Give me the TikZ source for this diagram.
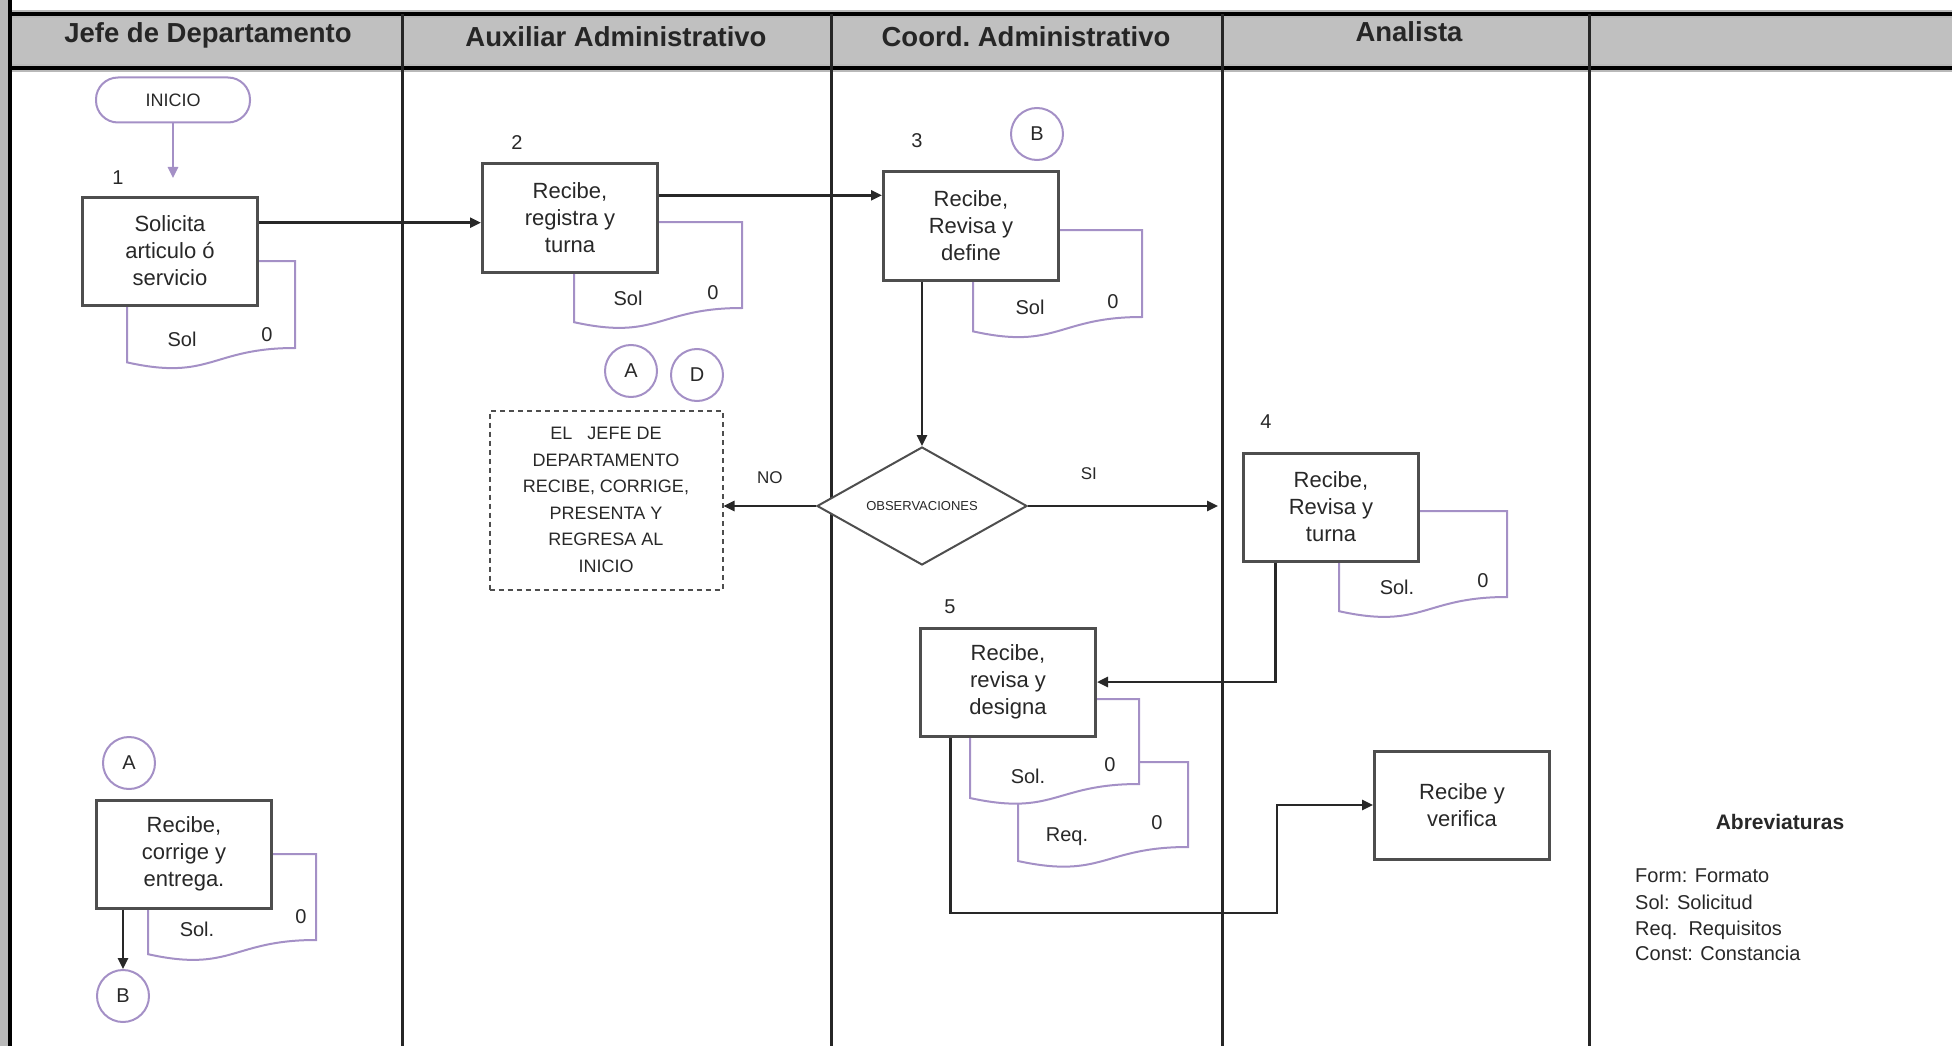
\documentclass[tikz,border=0pt]{standalone}
\usepackage{fontspec}
\setmainfont{Liberation Sans}
\usepackage{tikz}
\usetikzlibrary{arrows.meta}
\usetikzlibrary{shapes.geometric}
\usetikzlibrary{positioning, calc}
\definecolor{lila}{RGB}{164,144,198}
\definecolor{boxgray}{RGB}{78,78,78}
\definecolor{headgray}{RGB}{192,192,192}
\definecolor{inkgray}{RGB}{40,40,40}
\newcommand{\headfont}{\fontsize{27.5}{27.5}\selectfont\bfseries}
\newcommand{\bodyfont}{\fontsize{22}{27}\selectfont}
\newcommand{\capsfont}{\fontsize{18}{26.5}\selectfont}

\begin{document}
\begin{tikzpicture}[x=1pt, y=-1pt, >={Triangle[length=11pt,width=10pt]},
  proc/.style={draw=boxgray, line width=3pt, fill=white, minimum width=175pt,
    minimum height=108pt, inner sep=0pt, align=center, font=\bodyfont, text=inkgray},
  conn/.style={circle, draw=lila, line width=2pt, minimum size=52pt, inner sep=0pt,
    font=\fontsize{20}{20}\selectfont, text=inkgray},
  flow/.style={draw=inkgray, line width=2.5pt, ->},
  docline/.style={draw=lila, line width=2pt, fill=white},
  lane/.style={draw=black!85, line width=3pt}]
\useasboundingbox (0,0) rectangle (1952,1046);

% swimlane frame
\fill[headgray] (9,14) rectangle (1952,68);
\draw[line width=8pt, gray!55] (0,14) -- (1952,14);
\draw[line width=8pt, gray!55] (9,68) -- (1952,68);
\draw[line width=3.5pt, black] (0,14) -- (1952,14);
\draw[line width=3.5pt, black] (9,68) -- (1952,68);
\draw[line width=10pt, gray!55] (5,0) -- (5,1046);
\draw[line width=4.5pt, black] (10,0) -- (10,1046);
\foreach \x in {402, 831, 1222, 1589}
  \draw[lane] (\x,14) -- (\x,1046);

\foreach \x/\y/\m [count=\i] in {
    208/35/Jefe de Departamento, 616/37/Auxiliar Administrativo,
    1026/37/Coord.\ Administrativo, 1409/32/Analista}
    \node[font=\headfont, text=black!85] (lane\i) at (\x,\y) {\m};

% documents behind the boxes
\foreach \lx/\ty/\rx/\by in {
    127/261/295/348, 574/222/742/308, 973/230/1142/317,
    1339/511/1507/597, 1018/762/1188/847, 970/699/1139/784,
    148/854/316/940}{
  \pgfmathsetmacro\mx{(\lx+\rx)/2}
  \pgfmathsetmacro\ly{\ty+1.165*(\by-\ty)}
  \pgfmathsetmacro\cy{\ty+1.381*(\by-\ty)}
  \draw[docline] (\lx,\ty) -- (\rx,\ty) -- (\rx,\by)
    .. controls (\mx,\by) and (\mx,\cy) .. (\lx,\ly) -- cycle;
}
\foreach \x/\y/\m [count=\i] in {
    182/339/Sol, 267/335/0, 628/298/Sol, 713/293/0,
    1030/307/Sol, 1113/302/0, 1397/587/Sol., 1483/581/0,
    1028/776/Sol., 1110/765/0, 1067/837/Req., 1157/823/0,
    197/929/Sol., 301/917/0}
    \node[font=\fontsize{20}{20}\selectfont, text=inkgray] (doc\i) at (\x,\y) {\m};

% steps
\node[draw=lila, line width=2pt, rounded corners=22pt, minimum width=154pt,
  minimum height=45pt, font=\fontsize{18}{18}\selectfont, text=inkgray] (ini) at (173,100) {INICIO};
\node[proc] (b1) at (170,251) {Solicita\\articulo ó\\servicio};
\node[proc] (b2) at (570,218) {Recibe,\\registra y\\turna};
\node[proc] (b3) at (971,226) {Recibe,\\Revisa y\\define};
\node[proc] (b4) at (1331,507) {Recibe,\\Revisa y\\turna};
\node[proc] (b5) at (1008,682) {Recibe,\\revisa y\\designa};
\node[proc] (b6) at (1462,805) {Recibe y\\verifica};
\node[proc] (b7) at (184,854) {Recibe,\\corrige y\\entrega.};
\node[diamond, aspect=1.78, draw=boxgray, line width=2pt, fill=white, minimum width=210pt,
  minimum height=118pt, inner sep=0pt, font=\fontsize{13}{13}\selectfont, text=inkgray] (dia) at (922,506) {OBSERVACIONES};
\node[draw=boxgray, line width=2pt, dash pattern=on 5pt off 4pt, minimum width=233pt,
  minimum height=179pt, align=center, font=\capsfont, text=inkgray] (obs) at (606,500)
  {EL\ \ \ JEFE DE\\DEPARTAMENTO\\RECIBE, CORRIGE,\\PRESENTA Y\\REGRESA AL\\INICIO};

\foreach \x/\y/\m/\n in {
    631/371/A/cA1, 697/375/D/cD, 1037/134/B/cB1,
    129/763/A/cA2, 123/996/B/cB2}
    \node[conn] (\n) at (\x,\y) {\m};

\foreach \x/\y/\m in {118/178/1, 517/143/2, 917/141/3, 1266/422/4, 950/607/5}
    \node[font=\fontsize{20}{20}\selectfont, text=inkgray] (num\m) at (\x,\y) {\m};

% connectors
\coordinate (sep4) at (1218,70);
\coordinate (turn) at (1277,913);

\draw[flow, draw=lila] (ini.south) -- (ini.south |- num1);
\draw[flow] (b1.east |- b2.183) -- (b2.183);
\draw[flow] (b2.east |- b3.161) -- (b3.161);
\draw[flow] (dia.north |- b3.south) -- (dia.north);
\draw[flow] (dia.west) -- (obs.east |- dia.west)
  node[midway, above=18pt, font=\fontsize{17}{17}\selectfont, text=inkgray] (lblno) {NO};
\draw[flow] (dia.east) -- (dia.east -| sep4)
  node[pos=0.32, above=22pt, font=\fontsize{17}{17}\selectfont, text=inkgray] (lblsi) {SI};
\draw[flow] (b4.225) |- (b5.east);
\draw[flow] (b5.224) |- (turn) |- (b6.west);
\draw[flow] (cB2.north |- b7.south) -- (cB2.north);

% abbreviations
\node[font=\bfseries\fontsize{21}{21}\selectfont, text=inkgray] (abr) at (1780,822) {Abreviaturas};
\foreach \y/\m [count=\i] in {
    882/Form: Formato, 909/Sol: Solicitud,
    935/Req.\ \ Requisitos, 960/Const: Constancia}
    \node[anchor=base west, inner sep=0pt, font=\fontsize{20}{20}\selectfont, text=inkgray] (abr\i) at (1635,\y) {\m};

\end{tikzpicture}
\end{document}
